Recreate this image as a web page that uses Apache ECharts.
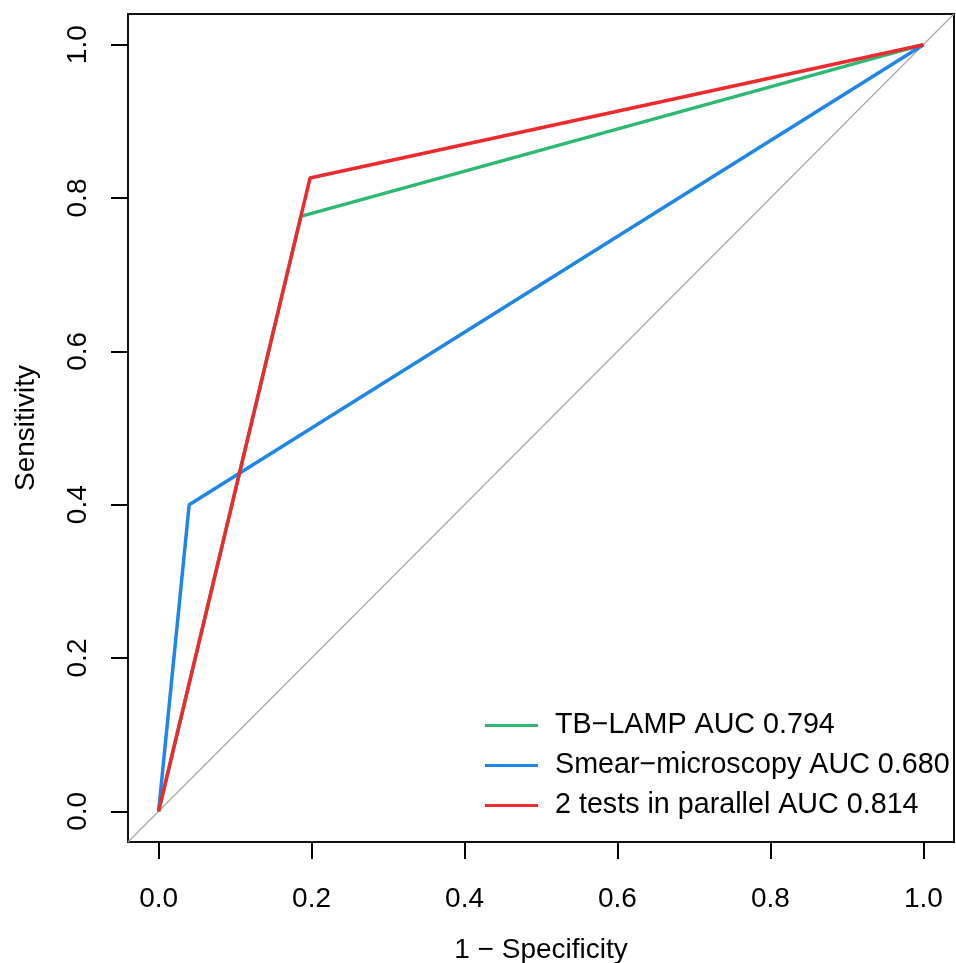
<!DOCTYPE html>
<html>
<head>
<meta charset="utf-8">
<script src="https://cdn.jsdelivr.net/npm/echarts@6/dist/echarts.min.js"></script>
<style>
html,body{margin:0;padding:0;background:#fff;}
#chart{width:956px;height:963px;}
</style>
</head>
<body>
<div id="chart"></div>
<script>
// Data (1 - Specificity, Sensitivity)
const seriesNames = ["TB\u2212LAMP AUC 0.794", "Smear\u2212microscopy AUC 0.680", "2 tests in parallel AUC 0.814"];
const tbLamp = [[0, 0], [0.186, 0.776], [1, 1]];
const smear = [[0, 0], [0.04, 0.40], [1, 1]];
const parallel = [[0, 0], [0.198, 0.826], [1, 1]];
const diagonal = [[-0.04, -0.04], [1.04, 1.04]];
const tickValues = [0, 0.2, 0.4, 0.6, 0.8, 1.0];

const colors = ["#2EB872", "#1F86E8", "#EE2A2E"];
const FONT = "Liberation Sans, Arial, sans-serif";

const chart = echarts.init(document.getElementById('chart'), null, {renderer: 'canvas'});

function axisCommon(name, isX) {
  return {
    type: 'value',
    min: -0.04,
    max: 1.04,
    name: name,
    nameLocation: 'middle',
    nameGap: isX ? 94 : 88,
    nameTextStyle: {fontFamily: FONT, fontSize: 28, color: '#000'},
    axisLine: {show: false, onZero: false},
    splitLine: {show: false},
    axisTick: {show: true, inside: false, customValues: tickValues, length: 17, lineStyle: {color: '#000', width: 2}},
    axisLabel: {
      show: true,
      customValues: tickValues,
      formatter: v => v.toFixed(1),
      fontFamily: FONT,
      fontSize: 28,
      color: '#000',
      margin: isX ? 43 : 36,
      rotate: isX ? 0 : 90
    }
  };
}

const option = {
  animation: false,
  backgroundColor: '#fff',
  grid: {
    left: 128, right: 2, top: 14, bottom: 121,
    containLabel: false,
    outerBoundsMode: 'none',
    show: true, borderColor: '#111', borderWidth: 2, backgroundColor: 'transparent'
  },
  xAxis: axisCommon('1 \u2212 Specificity', true),
  yAxis: axisCommon('Sensitivity', false),
  legend: {
    data: seriesNames,
    orient: 'vertical',
    left: 480,
    top: 706,
    itemWidth: 53,
    itemHeight: 3,
    itemGap: 11,
    icon: 'rect',
    textStyle: {fontFamily: FONT, fontSize: 28.7, color: '#000', lineHeight: 28, padding: [0, 0, 0, 12]},
    selectedMode: false
  },
  series: [
    {
      name: 'diag', type: 'line', data: diagonal, symbol: 'none', silent: true,
      lineStyle: {color: '#AAAAAA', width: 1.3}, z: 1
    },
    {
      name: seriesNames[0], type: 'line', data: tbLamp, symbol: 'none',
      lineStyle: {color: colors[0], width: 3.5}, itemStyle: {color: colors[0]}, z: 2
    },
    {
      name: seriesNames[1], type: 'line', data: smear, symbol: 'none',
      lineStyle: {color: colors[1], width: 3.5}, itemStyle: {color: colors[1]}, z: 3
    },
    {
      name: seriesNames[2], type: 'line', data: parallel, symbol: 'none',
      lineStyle: {color: colors[2], width: 3.5}, itemStyle: {color: colors[2]}, z: 4
    }
  ]
};

chart.setOption(option);
</script>
</body>
</html>
